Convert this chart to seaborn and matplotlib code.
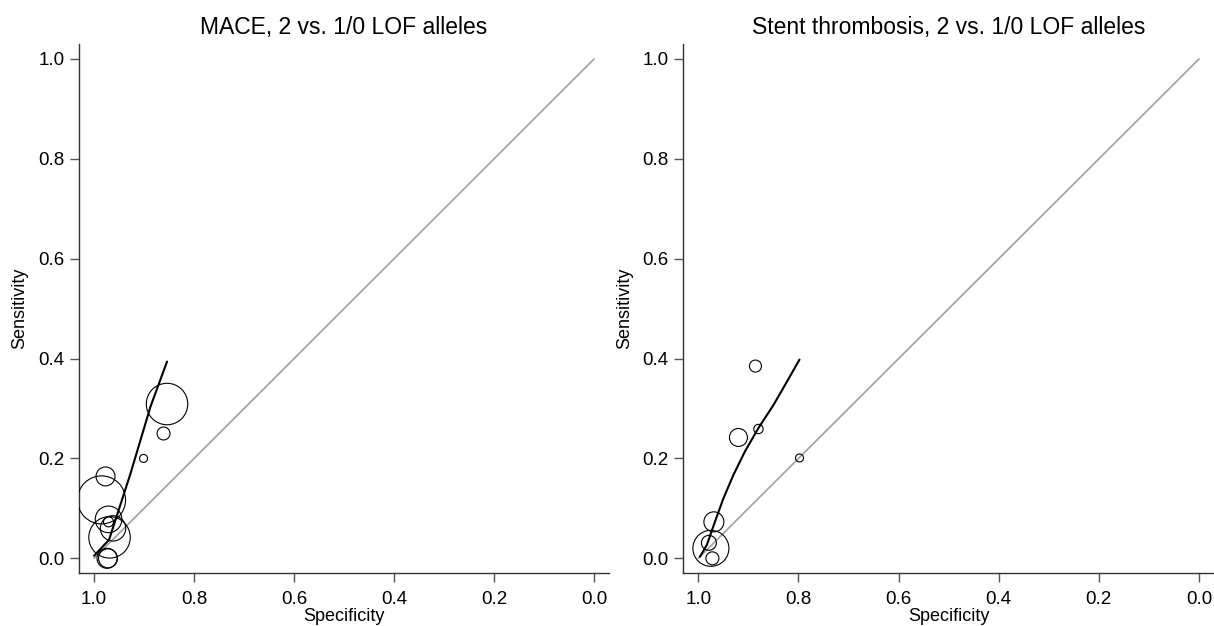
import matplotlib
matplotlib.use("Agg")
import matplotlib.pyplot as plt
import seaborn as sns
import pandas as pd

# ---- data ----
titles = ["MACE, 2 vs. 1/0 LOF alleles", "Stent thrombosis, 2 vs. 1/0 LOF alleles"]
tick_values = [0.0, 0.2, 0.4, 0.6, 0.8, 1.0]
tick_labels = ["0.0", "0.2", "0.4", "0.6", "0.8", "1.0"]

# MACE studies: specificity, sensitivity, relative study weight
mace_spec = [0.854, 0.861, 0.901, 0.977, 0.985, 0.971, 0.971, 0.962, 0.969, 0.974, 0.972]
mace_sens = [0.309, 0.250, 0.200, 0.164, 0.117, 0.078, 0.073, 0.060, 0.042, 0.000, 0.000]
mace_wt = [430, 42, 16, 90, 576, 177, 25, 161, 430, 100, 90]

# MACE SROC curve
mace_sroc_spec = [1.000, 0.970, 0.927, 0.887, 0.854]
mace_sroc_sens = [0.005, 0.037, 0.170, 0.304, 0.394]

# Stent thrombosis studies
st_spec = [0.886, 0.880, 0.920, 0.798, 0.969, 0.975, 0.979, 0.972]
st_sens = [0.385, 0.259, 0.242, 0.201, 0.073, 0.020, 0.031, 0.000]
st_wt = [36, 22, 81, 16, 100, 324, 56, 42]

# Stent thrombosis SROC curve
st_sroc_spec = [0.997, 0.983, 0.967, 0.950, 0.930, 0.907, 0.880, 0.850, 0.823, 0.798]
st_sroc_sens = [0.003, 0.027, 0.073, 0.120, 0.167, 0.214, 0.261, 0.307, 0.354, 0.398]

# chance line
diag_spec = [1.0, 0.0]
diag_sens = [0.0, 1.0]

# ---- style ----
sns.set_style("ticks")
plt.rcParams["font.family"] = ["Liberation Sans", "DejaVu Sans"]
plt.rcParams["text.color"] = "black"
plt.rcParams["axes.labelcolor"] = "black"
plt.rcParams["xtick.labelcolor"] = "black"
plt.rcParams["ytick.labelcolor"] = "black"

fig = plt.figure(figsize=(12.14, 6.26), dpi=100)
ax1 = fig.add_axes([0.0651, 0.0842, 0.4366, 0.8455])
ax2 = fig.add_axes([0.5629, 0.0842, 0.4371, 0.8455])

panels = [
    (ax1, titles[0], mace_spec, mace_sens, mace_wt, mace_sroc_spec, mace_sroc_sens),
    (ax2, titles[1], st_spec, st_sens, st_wt, st_sroc_spec, st_sroc_sens),
]

wmax = max(mace_wt + st_wt)
rmax_pt = 24 * 0.72
smax = (2 * rmax_pt) ** 2

for ax, title, sp, se, wt, ssp, sse in panels:
    sns.lineplot(x=diag_spec, y=diag_sens, ax=ax, color="#a0a0a0", linewidth=1.2,
                 sort=False, estimator=None)
    df = pd.DataFrame({"spec": sp, "sens": se, "w": wt})
    sns.scatterplot(data=df, x="spec", y="sens", size="w", sizes=(0, smax),
                    size_norm=(0, wmax), ax=ax, legend=False,
                    facecolors="none", edgecolor="black", linewidth=0.8, zorder=3)
    sns.lineplot(x=ssp, y=sse, ax=ax, color="black", linewidth=1.5,
                 sort=False, estimator=None, zorder=4)
    ax.set_xlim(1.03, -0.03)
    ax.set_ylim(-0.03, 1.03)
    ax.set_xticks(tick_values)
    ax.set_xticklabels(tick_labels)
    ax.set_yticks(tick_values)
    ax.set_yticklabels(tick_labels)
    ax.tick_params(axis="both", labelsize=13.5, length=6.5, width=1.0,
                   color="#555555", labelcolor="black", pad=4)
    ax.tick_params(axis="x", pad=6)
    ax.set_xlabel("Specificity", fontsize=13, labelpad=0, color="black")
    ax.set_ylabel("Sensitivity", fontsize=13, labelpad=7, color="black")
    ax.set_title(title, fontsize=16.5, pad=7, color="black")
    for s in ["top", "right"]:
        ax.spines[s].set_visible(False)
    for s in ["left", "bottom"]:
        ax.spines[s].set_color("#333333")
        ax.spines[s].set_linewidth(1.0)

fig.savefig("out.png", dpi=100, facecolor="white")
